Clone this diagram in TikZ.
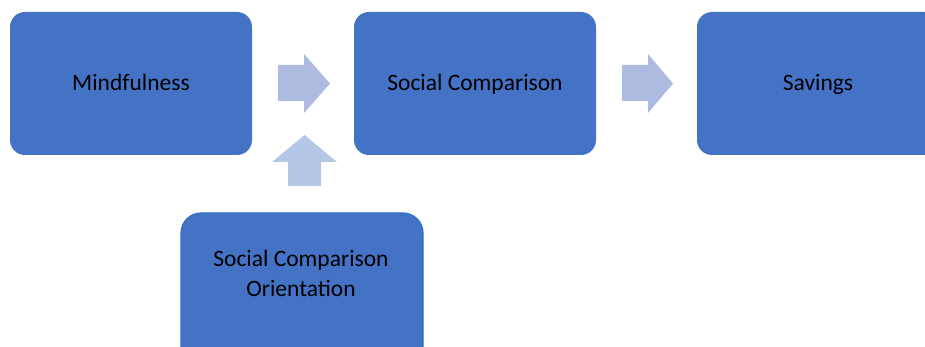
\documentclass[tikz,border=0pt]{standalone}
\usepackage{fontspec}
\setmainfont{Carlito}
\definecolor{boxblue}{HTML}{4472C4}
\definecolor{boxedge}{HTML}{2F6FC8}
\definecolor{arrowA}{HTML}{ADBBE0}
\definecolor{arrowB}{HTML}{B4C7E7}
\tikzset{
  boxfont/.style={font=\fontsize{23.5}{30}\selectfont, text=black},
  box/.style={boxfont, fill=boxblue, draw=none, rounded corners=15pt, minimum width=242pt, minimum height=143pt, inner sep=0pt, align=center, text height=20pt, text depth=5.6pt},
  blockarrow/.style={fill=arrowA, draw=none},
  uparrow/.style={fill=arrowB, draw=none}
}
\begin{document}
\begin{tikzpicture}[x=1pt,y=-1pt]
\useasboundingbox (0,0) rectangle (925,347);
\node[box] (mind) at (131,83.5) {Mindfulness};
\node[box] (sc) at (475,83.5) {Social Comparison};
\node[box] (sav) at (818,83.5) {Savings};
\node[box, minimum height=160pt, draw=boxedge, line width=1.2pt, rounded corners=20pt] (sco) at (302,293) {};
\node[boxfont, align=center, inner sep=0pt] (scotext) at (301,273) {Social Comparison\\Orientation};
% right arrow 1
\fill[blockarrow] (278,65) -- (304,65) -- (304,54) -- (330,83.5) -- (304,113) -- (304,101) -- (278,101) -- cycle;
% right arrow 2
\fill[blockarrow] (622,65) -- (648,65) -- (648,54) -- (673,83.5) -- (648,113) -- (648,101) -- (622,101) -- cycle;
% up arrow
\fill[uparrow] (288,186) -- (288,162) -- (272,162) -- (304.5,135) -- (337,162) -- (321,162) -- (321,186) -- cycle;
\end{tikzpicture}
\end{document}
